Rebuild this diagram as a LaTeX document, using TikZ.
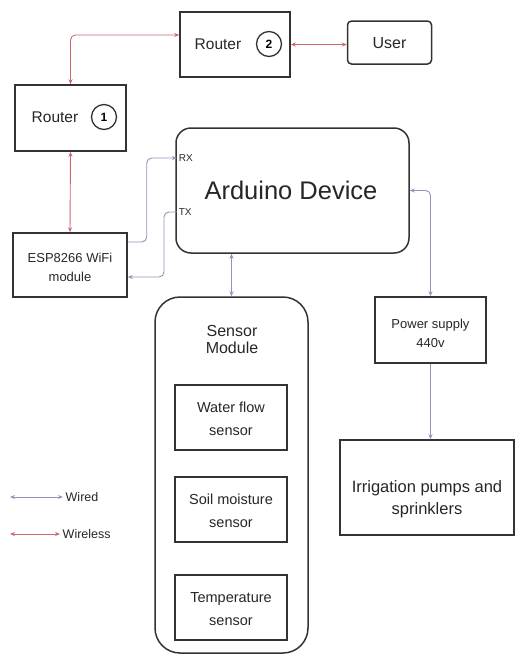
\documentclass[tikz,border=0pt]{standalone}
\usepackage{fontspec}
\setmainfont{Liberation Sans}
\usetikzlibrary{arrows.meta}
\definecolor{wired}{HTML}{9A92B4}
\definecolor{wless}{HTML}{CC6670}
\definecolor{edge}{HTML}{333333}
\tikzset{
	box/.style={draw=edge,line width=1.5pt,inner sep=0pt},
	txt/.style={text=black!85,align=center,inner sep=0pt},
	num/.style={circle,draw=edge,line width=1.3pt,minimum size=25pt,inner sep=0pt,font=\fontsize{12}{12}\selectfont\bfseries},
	wire/.style={wired,line width=0.9pt,rounded corners=5pt,>={Stealth[length=5pt,width=4pt]}},
	wifi/.style={wless,line width=0.9pt,rounded corners=5pt,>={Stealth[length=5pt,width=4pt]}},
}
\begin{document}
\begin{tikzpicture}[x=1pt,y=-1pt]
		\useasboundingbox (0,0) rectangle (516,657);
		\node[box,minimum width=110pt,minimum height=65pt] (r2) at (235,44.5) {};
		\node[txt,font=\fontsize{15.5}{18}\selectfont] (r2t) at (218,44) {Router};
		\node[num] (r2c) at (269,44) {2};
		\node[box,rounded corners=4pt,minimum width=84pt,minimum height=43pt] (user) at (389.5,42.5) {};
		\node[txt,font=\fontsize{16}{18}\selectfont] (usert) at (389.5,43) {User};
		\node[box,minimum width=111pt,minimum height=66pt] (r1) at (70.5,118) {};
		\node[txt,font=\fontsize{15.5}{18}\selectfont] (r1t) at (55,117) {Router};
		\node[num] (r1c) at (104,117) {1};
		\node[box,rounded corners=15pt,minimum width=233pt,minimum height=125pt] (ard) at (292.5,190.5) {};
		\node[txt,font=\fontsize{25.5}{28}\selectfont] (ardt) at (291,190) {Arduino Device};
		\node[txt,anchor=west,font=\fontsize{10}{12}\selectfont] (rxl) at (177,158) {\,RX};
		\node[txt,anchor=west,font=\fontsize{10}{12}\selectfont] (txl) at (177,212) {\,TX};
		\node[box,minimum width=114pt,minimum height=64pt] (esp) at (70,265) {};
		\node[txt,font=\fontsize{13}{19}\selectfont] (espt) at (70,267) {ESP8266 WiFi\\module};
		\node[box,rounded corners=25pt,minimum width=153pt,minimum height=356pt] (sens) at (231.5,475) {};
		\node[txt,font=\fontsize{16}{17}\selectfont] (senst) at (232,339) {Sensor\\Module};
		\node[box,minimum width=112pt,minimum height=65pt] (flow) at (231,417.5) {};
		\node[txt,font=\fontsize{14.5}{23}\selectfont] (flowt) at (231,419) {Water flow\\sensor};
		\node[box,minimum width=112pt,minimum height=65pt] (soil) at (231,509.5) {};
		\node[txt,font=\fontsize{14.5}{23}\selectfont] (soilt) at (231,511) {Soil moisture\\sensor};
		\node[box,minimum width=112pt,minimum height=65pt] (temp) at (231,607.5) {};
		\node[txt,font=\fontsize{14.5}{23}\selectfont] (tempt) at (231,609) {Temperature\\sensor};
		\node[box,minimum width=111pt,minimum height=66pt] (pow) at (430.5,330) {};
		\node[txt,font=\fontsize{13}{19}\selectfont] (powt) at (430.5,333) {Power supply\\440v};
		\node[box,minimum width=174pt,minimum height=95pt] (irr) at (427,487.5) {};
		\node[txt,font=\fontsize{16.5}{22}\selectfont] (irrt) at (427,499) {Irrigation pumps and\\sprinklers};
		\draw[wifi,<->] (r1.north) |- ([yshift=9.5pt]r2.west);
		\draw[wifi,<->] (r2.east) -- (r2.east -| user.west);
		\draw[wifi,<->] (r1.south) -- (esp.north);
		\draw[wire,->] ([yshift=23pt]esp.east) -- ++(19,0) |- (rxl.west);
		\draw[wire,->] (txl.west) -- ++(-13,0) |- ([yshift=-12pt]esp.east);
		\draw[wire,<->] (sens.north |- ard.south) -- (sens.north);
		\draw[wire,<->] (ard.east) -| (pow.north);
		\draw[wire,->] (pow.south) -- (pow.south |- irr.north);
		\coordinate (wd) at (10,497);
		\node[txt,anchor=west,font=\fontsize{12.5}{14}\selectfont,inner sep=2.5pt] (wdt) at (63,497) {Wired};
		\draw[wire,<->] (wd) -- (wdt.west);
		\coordinate (wl) at (10,534);
		\node[txt,anchor=west,font=\fontsize{12.5}{14}\selectfont,inner sep=2.5pt] (wlt) at (60,534) {Wireless};
		\draw[wifi,<->] (wl) -- (wlt.west);
\end{tikzpicture}
\end{document}
